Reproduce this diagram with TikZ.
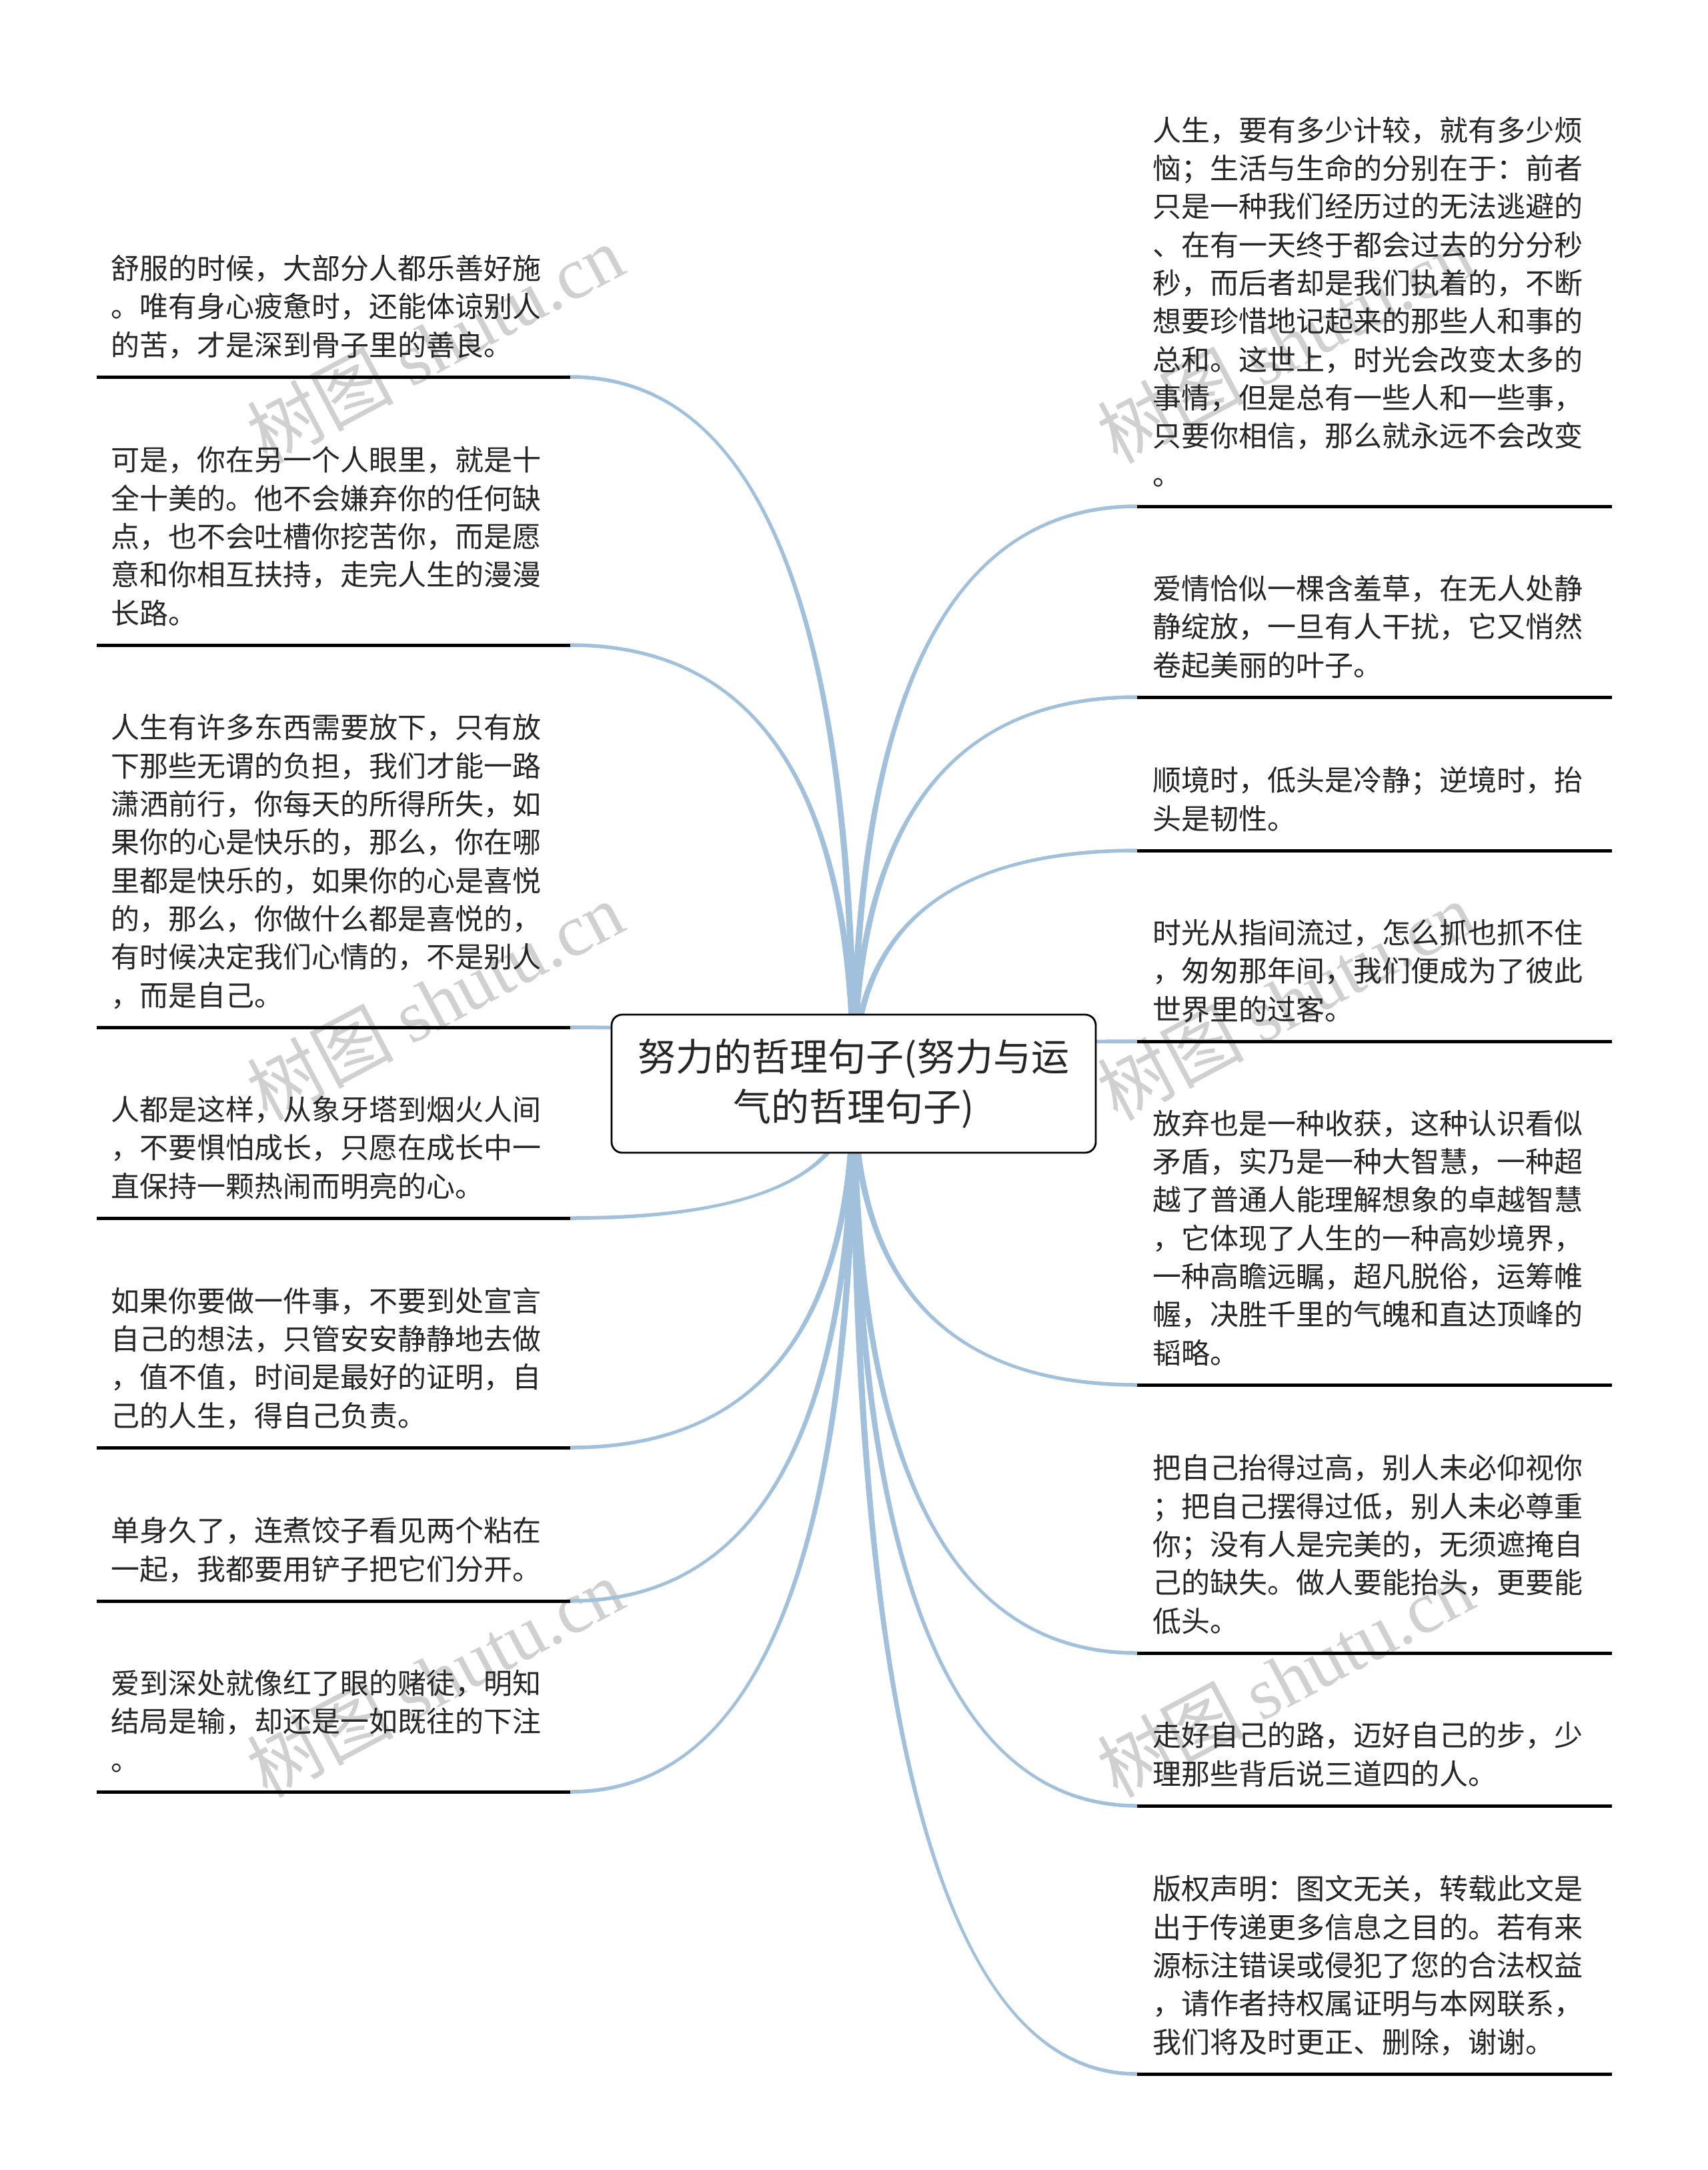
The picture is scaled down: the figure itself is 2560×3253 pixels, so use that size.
\documentclass[tikz,border=0pt]{standalone}
\usepackage{fontspec}
\setmainfont{Noto Sans CJK SC}
\newfontfamily\wmlatin{Liberation Serif}
\usetikzlibrary{calc}
\definecolor{connc}{RGB}{161,192,219}
\definecolor{txtc}{RGB}{38,38,38}
\definecolor{wmc}{RGB}{208,208,208}
\pgfdeclarelayer{back}
\pgfdeclarelayer{bg}
\pgfsetlayers{back,bg,main}
\tikzset{
  leaf/.style={anchor=base west, text width=700pt, align=left, inner sep=0pt,
    font=\fontsize{43pt}{57.3pt}\selectfont, text=txtc},
  rootbox/.style={draw=black, line width=2.8pt, rounded corners=16pt, fill=white,
    minimum width=726pt, minimum height=207pt, align=center, inner sep=0pt,
    font=\fontsize{57pt}{75pt}\selectfont, text=txtc},
  uline/.style={line width=5pt, black},
  wm/.style={text=wmc, rotate=28, inner sep=0pt, font=\fontsize{110pt}{110pt}\selectfont},
}
% tapered quadratic connector: #1 origin, #2 end, #3/#4 end offsets
\newcommand\taper[4]{%
  \coordinate (tq) at (#1 |- #2);
  \path ($(#1)!0.6667!(tq)$) coordinate (tca);
  \path ($(#2)!0.6667!(tq)$) coordinate (tcb);
  \fill[connc] ([xshift=-5pt]#1) .. controls ([xshift=-5pt]tca) and ([yshift=#3]tcb) .. ([yshift=#3]#2)
     -- ([yshift=#4]#2) .. controls ([yshift=#4]tcb) and ([xshift=5pt]tca) .. ([xshift=5pt]#1) -- cycle;
}
\begin{document}
\begin{tikzpicture}[x=1pt,y=-1pt]
\begin{pgfonlayer}{back}
\fill[white] (0,0) rectangle (2560,3253);
\useasboundingbox (0,0) rectangle (2560,3253);
\node[wm] (wm1) at (652,515) {树图 {\wmlatin shutu.cn}};
\node[wm] (wm2) at (1927,515) {树图 {\wmlatin shutu.cn}};
\node[wm] (wm3) at (652,1500) {树图 {\wmlatin shutu.cn}};
\node[wm] (wm4) at (1927,1500) {树图 {\wmlatin shutu.cn}};
\node[wm] (wm5) at (652,2515) {树图 {\wmlatin shutu.cn}};
\node[wm] (wm6) at (1927,2515) {树图 {\wmlatin shutu.cn}};
\end{pgfonlayer}

% root
\node[rootbox] (root) at (1280,1624.5) {努力的哲理句子(努力与运\\气的哲理句子)};
\coordinate (o) at (root.center);

% left leaves
\coordinate (l1a) at (145,565);  \coordinate (l1b) at (855,565);
\coordinate (l2a) at (145,967);  \coordinate (l2b) at (855,967);
\coordinate (l3a) at (145,1540); \coordinate (l3b) at (855,1540);
\coordinate (l4a) at (145,1826); \coordinate (l4b) at (855,1826);
\coordinate (l5a) at (145,2170); \coordinate (l5b) at (855,2170);
\coordinate (l6a) at (145,2400); \coordinate (l6b) at (855,2400);
\coordinate (l7a) at (145,2686); \coordinate (l7b) at (855,2686);
% right leaves
\coordinate (r1a) at (1705,759);  \coordinate (r1b) at (2417,759);
\coordinate (r2a) at (1705,1045); \coordinate (r2b) at (2417,1045);
\coordinate (r3a) at (1705,1275); \coordinate (r3b) at (2417,1275);
\coordinate (r4a) at (1705,1561); \coordinate (r4b) at (2417,1561);
\coordinate (r5a) at (1705,2076); \coordinate (r5b) at (2417,2076);
\coordinate (r6a) at (1705,2478); \coordinate (r6b) at (2417,2478);
\coordinate (r7a) at (1705,2707); \coordinate (r7b) at (2417,2707);
\coordinate (r8a) at (1705,3109); \coordinate (r8b) at (2417,3109);

\node[leaf] (t1) at (166,418.4) {舒服的时候，大部分人都乐善好施\\。唯有身心疲惫时，还能体谅别人\\的苦，才是深到骨子里的善良。};
\node[leaf] (t2) at (166,705.8) {可是，你在另一个人眼里，就是十\\全十美的。他不会嫌弃你的任何缺\\点，也不会吐槽你挖苦你，而是愿\\意和你相互扶持，走完人生的漫漫\\长路。};
\node[leaf] (t3) at (166,1106.9) {人生有许多东西需要放下，只有放\\下那些无谓的负担，我们才能一路\\潇洒前行，你每天的所得所失，如\\果你的心是快乐的，那么，你在哪\\里都是快乐的，如果你的心是喜悦\\的，那么，你做什么都是喜悦的，\\有时候决定我们心情的，不是别人\\，而是自己。};
\node[leaf] (t4) at (166,1679.4) {人都是这样，从象牙塔到烟火人间\\，不要惧怕成长，只愿在成长中一\\直保持一颗热闹而明亮的心。};
\node[leaf] (t5) at (166,1966.1) {如果你要做一件事，不要到处宣言\\自己的想法，只管安安静静地去做\\，值不值，时间是最好的证明，自\\己的人生，得自己负责。};
\node[leaf] (t6) at (166,2310.7) {单身久了，连煮饺子看见两个粘在\\一起，我都要用铲子把它们分开。};
\node[leaf] (t7) at (166,2539.4) {爱到深处就像红了眼的赌徒，明知\\结局是输，却还是一如既往的下注\\。};

\node[leaf] (u1) at (1728,211.3) {人生，要有多少计较，就有多少烦\\恼；生活与生命的分别在于：前者\\只是一种我们经历过的无法逃避的\\、在有一天终于都会过去的分分秒\\秒，而后者却是我们执着的，不断\\想要珍惜地记起来的那些人和事的\\总和。这世上，时光会改变太多的\\事情，但是总有一些人和一些事，\\只要你相信，那么就永远不会改变\\。};
\node[leaf] (u2) at (1728,898.4) {爱情恰似一棵含羞草，在无人处静\\静绽放，一旦有人干扰，它又悄然\\卷起美丽的叶子。};
\node[leaf] (u3) at (1728,1185.7) {顺境时，低头是冷静；逆境时，抬\\头是韧性。};
\node[leaf] (u4) at (1728,1414.4) {时光从指间流过，怎么抓也抓不住\\，匆匆那年间，我们便成为了彼此\\世界里的过客。};
\node[leaf] (u5) at (1728,1700.2) {放弃也是一种收获，这种认识看似\\矛盾，实乃是一种大智慧，一种超\\越了普通人能理解想象的卓越智慧\\，它体现了人生的一种高妙境界，\\一种高瞻远瞩，超凡脱俗，运筹帷\\幄，决胜千里的气魄和直达顶峰的\\韬略。};
\node[leaf] (u6) at (1728,2216.8) {把自己抬得过高，别人未必仰视你\\；把自己摆得过低，别人未必尊重\\你；没有人是完美的，无须遮掩自\\己的缺失。做人要能抬头，更要能\\低头。};
\node[leaf] (u7) at (1728,2617.7) {走好自己的路，迈好自己的步，少\\理那些背后说三道四的人。};
\node[leaf] (u8) at (1728,2847.8) {版权声明：图文无关，转载此文是\\出于传递更多信息之目的。若有来\\源标注错误或侵犯了您的合法权益\\，请作者持权属证明与本网联系，\\我们将及时更正、删除，谢谢。};

% underlines
\foreach \n in {l1,l2,l3,l4,l5,l6,l7,r1,r2,r3,r4,r5,r6,r7,r8}
  \draw[uline] (\n a) -- (\n b);

% connectors (behind the root box)
\begin{pgfonlayer}{bg}
\taper{o}{l1b}{-2.75pt}{2.75pt}
\taper{o}{l2b}{-2.75pt}{2.75pt}
\taper{o}{l3b}{-2.75pt}{2.75pt}
\taper{o}{l4b}{2.75pt}{-2.75pt}
\taper{o}{l5b}{2.75pt}{-2.75pt}
\taper{o}{l6b}{2.75pt}{-2.75pt}
\taper{o}{l7b}{2.75pt}{-2.75pt}
\taper{o}{r1a}{2.75pt}{-2.75pt}
\taper{o}{r2a}{2.75pt}{-2.75pt}
\taper{o}{r3a}{2.75pt}{-2.75pt}
\taper{o}{r4a}{2.75pt}{-2.75pt}
\taper{o}{r5a}{-2.75pt}{2.75pt}
\taper{o}{r6a}{-2.75pt}{2.75pt}
\taper{o}{r7a}{-2.75pt}{2.75pt}
\taper{o}{r8a}{-2.75pt}{2.75pt}
\end{pgfonlayer}
\end{tikzpicture}
\end{document}
